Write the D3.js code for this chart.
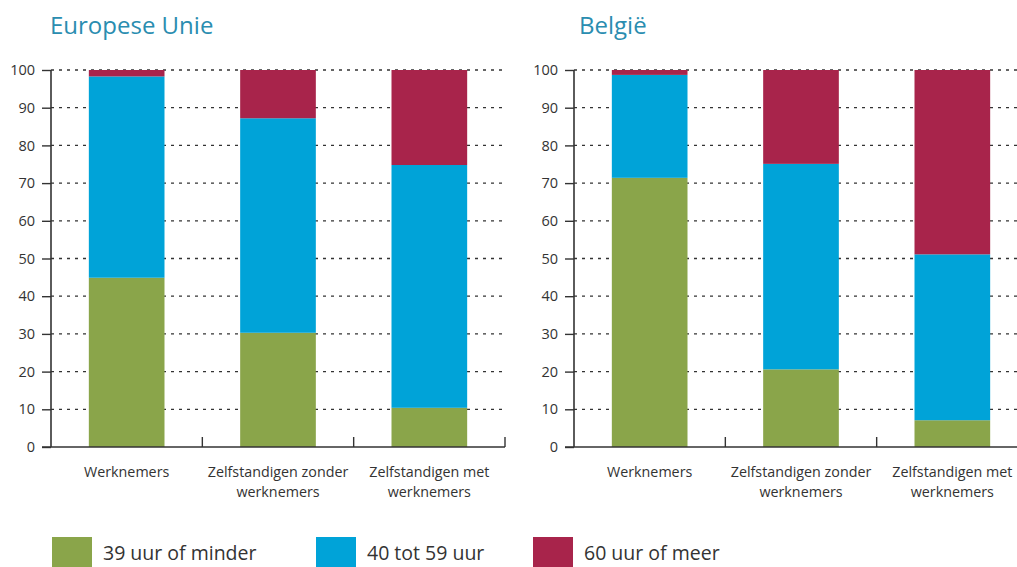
<!DOCTYPE html>
<html><head><meta charset="utf-8">
<script src="https://cdn.jsdelivr.net/npm/d3@7"></script>
<style>
body{margin:0;background:#fff;}
svg{display:block;font-family:"Open Sans","Noto Sans",sans-serif;}
</style></head>
<body><svg id="c" width="1017" height="567"></svg>
<script>
const categories = ["Werknemers", "Zelfstandigen zonder werknemers", "Zelfstandigen met werknemers"];
const categoryLines = [["Werknemers"], ["Zelfstandigen zonder", "werknemers"], ["Zelfstandigen met", "werknemers"]];
const seriesNames = ["39 uur of minder", "40 tot 59 uur", "60 uur of meer"];
const seriesColors = ["#8aa54a", "#00a3d8", "#a8244b"];
const panelTitles = ["Europese Unie", "België"];
// values per panel: [39 or less, 40-59, 60+] per category
const euLow  = [44.9, 30.3, 10.4];
const euMid  = [53.4, 56.9, 64.4];
const euHigh = [1.7, 12.8, 25.2];
const beLow  = [71.4, 20.6, 7.1];
const beMid  = [27.3, 54.5, 44.0];
const beHigh = [1.3, 24.9, 48.9];
const yTicks = [0,10,20,30,40,50,60,70,80,90,100];

const svg = d3.select("#c");
const panels = [
  {title: panelTitles[0], data: [euLow, euMid, euHigh], x0: 51, titleX: 50},
  {title: panelTitles[1], data: [beLow, beMid, beHigh], x0: 574, titleX: 579}
];
const plotTop = 70, plotBottom = 447, plotWidth = 454;
const y = d3.scaleLinear().domain([0,100]).range([plotBottom, plotTop]);

panels.forEach(p => {
  const g = svg.append("g");
  const x = d3.scaleBand().domain(categories).range([p.x0, p.x0 + plotWidth]).paddingInner(0.5).paddingOuter(0.25);
  // title
  g.append("text").attr("x", p.titleX).attr("y", 34).attr("fill", "#2a8db0")
    .attr("font-size", 24).text(p.title);
  // gridlines
  g.append("g").selectAll("line").data(yTicks.filter(t => t > 0)).join("line")
    .attr("x1", p.x0).attr("x2", p.x0 + plotWidth)
    .attr("y1", d => y(d)).attr("y2", d => y(d))
    .attr("stroke", "#333").attr("stroke-width", 1.3).attr("stroke-dasharray", "3,5");
  // stacked bars
  const rows = categories.map((c, i) => {
    const o = {cat: c};
    seriesNames.forEach((s, j) => o[s] = p.data[j][i]);
    return o;
  });
  const stack = d3.stack().keys(seriesNames)(rows);
  g.append("g").selectAll("g").data(stack).join("g")
    .attr("fill", (d, i) => seriesColors[i])
    .selectAll("rect").data(d => d).join("rect")
    .attr("x", d => x(d.data.cat)).attr("width", x.bandwidth())
    .attr("y", d => y(d[1])).attr("height", d => y(d[0]) - y(d[1]));
  // y axis
  const ya = g.append("g").attr("transform", `translate(${p.x0},0)`)
    .call(d3.axisLeft(y).tickValues(yTicks).tickSize(9).tickPadding(7));
  ya.select(".domain").attr("stroke", "#333").attr("stroke-width", 1.6).attr("d", `M0,${plotTop}V${plotBottom}`);
  ya.selectAll(".tick line").attr("stroke", "#333").attr("stroke-width", 1.4);
  ya.selectAll(".tick text").attr("font-size", 14.5).attr("fill", "#333").attr("font-family", "Open Sans");
  // x baseline
  g.append("line").attr("x1", p.x0 - 9).attr("x2", p.x0 + plotWidth)
    .attr("y1", plotBottom).attr("y2", plotBottom).attr("stroke", "#333").attr("stroke-width", 1.6);
  // separators
  const seps = categories.map((c, i) => p.x0 + (i + 1) * plotWidth / categories.length);
  g.append("g").selectAll("line").data(seps).join("line")
    .attr("x1", d => d).attr("x2", d => d).attr("y1", plotBottom - 10).attr("y2", plotBottom)
    .attr("stroke", "#333").attr("stroke-width", 1.4);
  // category labels
  const lab = g.append("g").selectAll("text").data(categories).join("text")
    .attr("text-anchor", "middle").attr("font-size", 14.3).attr("fill", "#333")
    .attr("x", d => x(d) + x.bandwidth() / 2).attr("y", 477);
  lab.each(function(d, i) {
    d3.select(this).selectAll("tspan").data(categoryLines[i]).join("tspan")
      .attr("x", x(d) + x.bandwidth() / 2).attr("dy", (t, k) => k === 0 ? 0 : 20).text(t => t);
  });
});

// legend
const legendX = [52, 316, 533];
const lg = svg.append("g");
seriesNames.forEach((s, i) => {
  lg.append("rect").attr("x", legendX[i]).attr("y", 537).attr("width", 40).attr("height", 30).attr("fill", seriesColors[i]);
  lg.append("text").attr("x", legendX[i] + 51).attr("y", 560).attr("font-size", 19.5).attr("fill", "#333")
    .attr("font-family", "Open Sans").text(s);
});
</script></body></html>
